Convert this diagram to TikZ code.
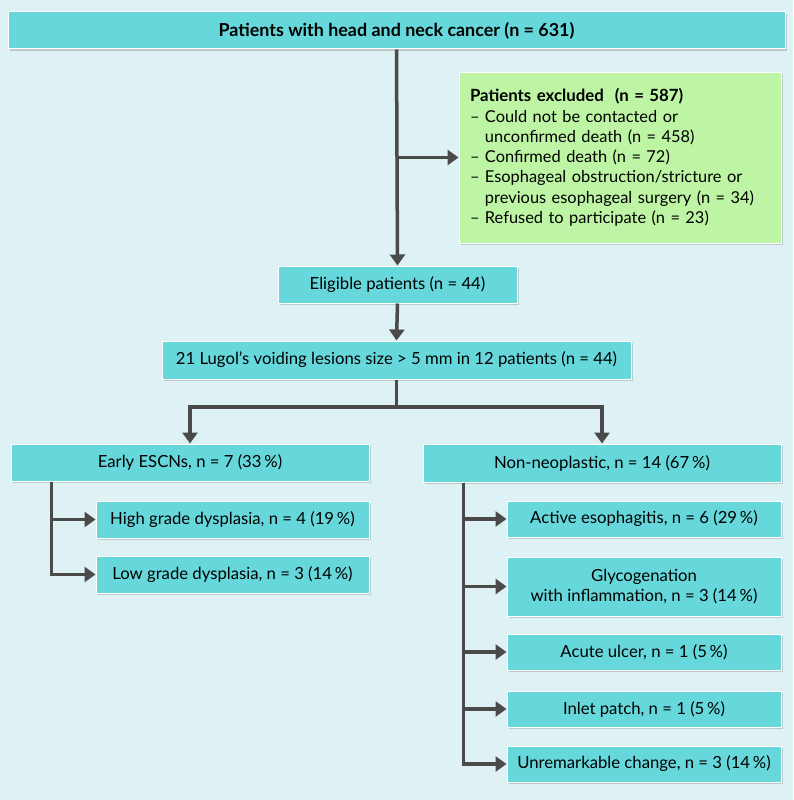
\documentclass[tikz,border=0pt]{standalone}
\usepackage{fontspec}
\setmainfont{Lato}
\usetikzlibrary{arrows.meta,shadows}
\definecolor{bgcol}{RGB}{222,241,244}
\definecolor{boxcol}{RGB}{102,216,220}
\definecolor{exclcol}{RGB}{190,245,165}
\definecolor{linecol}{RGB}{74,74,74}
\begin{document}
\begin{tikzpicture}[x=1pt,y=-1pt,
    box/.style={draw=white,line width=1pt,fill=boxcol,inner sep=2pt,
        font=\fontsize{16.7}{20}\selectfont,align=center,
        drop shadow={shadow xshift=2pt,shadow yshift=-2pt,opacity=0.35}},
    exclbox/.style={box,fill=exclcol,align=left,text width=300pt,
        font=\fontsize{16.4}{20.3}\selectfont},
    arr/.style={draw=linecol,line width=3.5pt,-{Triangle[length=11pt,width=15pt]}},
    con/.style={draw=linecol,line width=3.5pt}]
    \fill[bgcol] (0,0) rectangle (793,800);
    \useasboundingbox (0,0) rectangle (793,800);
    % top part
    \node[box,minimum width=777pt,minimum height=37pt,font=\fontsize{17.9}{20}\selectfont]
        (top) at (396.5,30.5) {\textbf{Patients with head and neck cancer (n = 631)}};
    \node[exclbox,minimum width=322pt,minimum height=171pt] (excl) at (620,157.5)
        {{\fontsize{16.8}{20.3}\selectfont\textbf{Patients excluded~~(n = 587)}}\\
         – Could not be contacted or\\
         \phantom{– }unconfirmed death (n = 458)\\
         – Confirmed death (n = 72)\\
         – Esophageal obstruction/stricture or\\
         \phantom{– }previous esophageal surgery (n = 34)\\
         – Refused to participate (n = 23)};
    \node[box,minimum width=239pt,minimum height=37pt] (elig) at (397.5,284.5)
        {Eligible patients (n = 44)};
    \node[box,minimum width=469pt,minimum height=38pt] (lugol) at (396.5,360)
        {21 Lugol’s voiding lesions size > 5 mm in 12 patients (n = 44)};
    \draw[arr] (top.south) -- (elig.north);
    \draw[arr] (top.south |- excl.west) -- (excl.west);
    \draw[arr] (elig.south) -- (lugol.north);
    % two groups
    \node[box,minimum width=358pt,minimum height=37pt] (early) at (190,462.5)
        {Early ESCNs, n = 7 (33\,\%)};
    \node[box,minimum width=358pt,minimum height=38pt] (nonneo) at (602,463)
        {Non-neoplastic, n = 14 (67\,\%)};
    \coordinate (split) at (396.5,407);
    \draw[con] (lugol.south) -- (split);
    \draw[arr] (split) -| (early.north);
    \draw[arr] (split) -| (nonneo.north);
    % left branch
    \node[box,minimum width=273pt,minimum height=37pt] (high) at (232.5,519.5)
        {High grade dysplasia, n = 4 (19\,\%)};
    \node[box,minimum width=273pt,minimum height=37pt] (low) at (232.5,574.5)
        {Low grade dysplasia, n = 3 (14\,\%)};
    \draw[arr] ([xshift=41pt]early.south west) |- (high.west);
    \draw[arr] ([xshift=41pt]early.south west) |- (low.west);
    % right branch
    \foreach \n/\y/\h/\t in {
        active/519/36/{Active esophagitis, n = 6 (29\,\%)},
        glyco/586.5/59/{Glycogenation\\with inflammation, n = 3 (14\,\%)},
        acute/652/36/{Acute ulcer, n = 1 (5\,\%)},
        inlet/709/36/{Inlet patch, n = 1 (5\,\%)},
        unrem/764/36/{Unremarkable change, n = 3 (14\,\%)}}
    {
        \node[box,minimum width=274pt,minimum height=\h pt] (\n) at (644,\y) {\t};
        \draw[arr] ([xshift=41pt]nonneo.south west) |- (\n.west);
    }
\end{tikzpicture}
\end{document}
